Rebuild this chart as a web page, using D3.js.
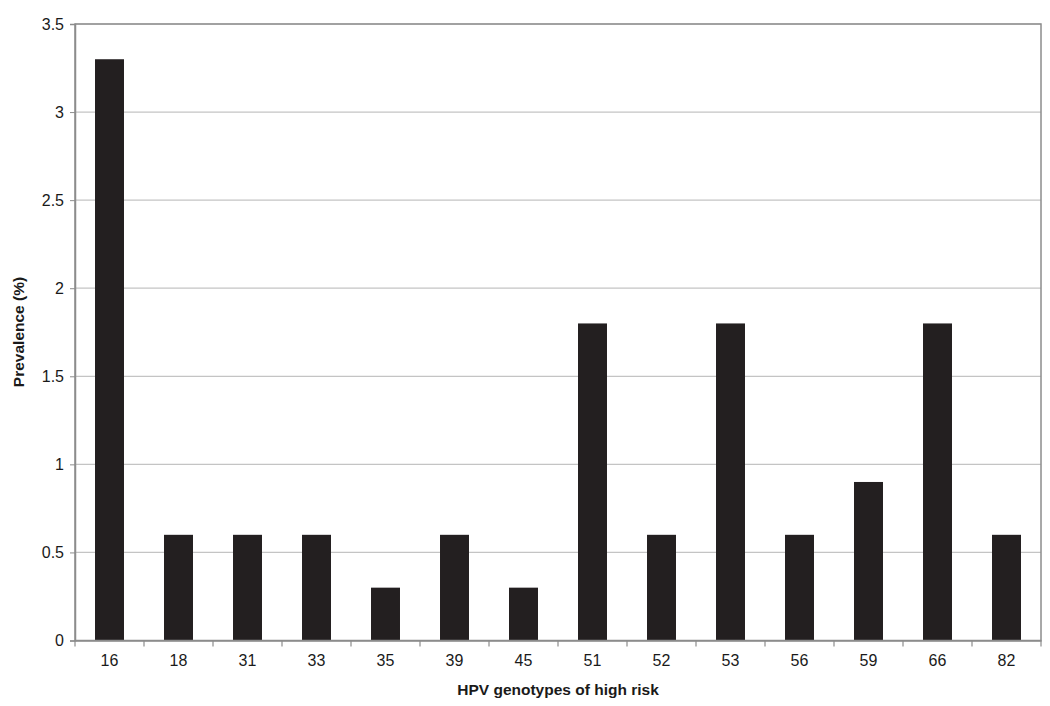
<!DOCTYPE html>
<html><head><meta charset="utf-8">
<script src="https://cdn.jsdelivr.net/npm/d3@7"></script>
<style>body{margin:0;background:#fff}svg{display:block}text{font-family:Arial,"Liberation Sans",sans-serif}</style>
</head><body><svg id="c" width="1050" height="706"></svg>
<script>
const genotypes = ["16","18","31","33","35","39","45","51","52","53","56","59","66","82"];
const prevalence = [3.3,0.6,0.6,0.6,0.3,0.6,0.3,1.8,0.6,1.8,0.6,0.9,1.8,0.6];
const yTicks = [0,0.5,1,1.5,2,2.5,3,3.5];
const yTickLabels = ["0","0.5","1","1.5","2","2.5","3","3.5"];

const svg = d3.select("#c");
const L = 75, R = 1041, T = 24, B = 640.5;
const x = d3.scaleBand().domain(genotypes).range([L, R]).paddingInner(0.58).paddingOuter(0.29);
const y = d3.scaleLinear().domain([0, 3.5]).range([B, T]);

// gridlines
svg.append("g").selectAll("line").data(yTicks.filter(d => d > 0)).join("line")
  .attr("x1", L).attr("x2", R).attr("y1", d => y(d)).attr("y2", d => y(d))
  .attr("stroke", "#c4c4c4").attr("stroke-width", 1.2);

// bars
svg.append("g").selectAll("rect").data(genotypes).join("rect")
  .attr("x", d => x(d)).attr("width", x.bandwidth())
  .attr("y", (d, i) => y(prevalence[i])).attr("height", (d, i) => B - y(prevalence[i]))
  .attr("fill", "#231f20");

// plot frame
svg.append("rect").attr("x", L).attr("y", T).attr("width", R - L).attr("height", B - T)
  .attr("fill", "none").attr("stroke", "#8c8c8c").attr("stroke-width", 1.5);

// y axis
const yAxis = d3.axisLeft(y).tickValues(yTicks).tickFormat((d, i) => yTickLabels[i]).tickSize(5).tickPadding(6);
const gy = svg.append("g").attr("transform", `translate(${L},0)`).call(yAxis);
gy.attr("font-size", null).attr("font-family", null);
gy.select(".domain").attr("stroke", "#8c8c8c").attr("stroke-width", 1.5);
gy.selectAll(".tick line").attr("stroke", "#8c8c8c");
gy.selectAll(".tick text").style("font-size", "16px").attr("fill", "#1a1a1a");

// x axis
const step = x.step();
const xAxis = d3.axisBottom(x).tickSize(0).tickPadding(14);
const gx = svg.append("g").attr("transform", `translate(0,${B})`).call(xAxis);
gx.attr("font-size", null).attr("font-family", null);
gx.select(".domain").attr("stroke", "#8c8c8c").attr("stroke-width", 1.5);
gx.selectAll(".tick text").style("font-size", "16px").attr("fill", "#1a1a1a");
// category separator ticks
svg.append("g").selectAll("line").data(d3.range(genotypes.length + 1)).join("line")
  .attr("x1", i => L + i * step).attr("x2", i => L + i * step)
  .attr("y1", B).attr("y2", B + 6).attr("stroke", "#8c8c8c").attr("stroke-width", 1.2);

// titles
svg.append("text").attr("x", (L + R) / 2).attr("y", 695).attr("text-anchor", "middle")
  .style("font-size", "15.5px").attr("font-weight", "bold").attr("fill", "#1a1a1a").text("HPV genotypes of high risk");
svg.append("text").attr("transform", `translate(24,332) rotate(-90)`).attr("text-anchor", "middle")
  .style("font-size", "15.5px").attr("font-weight", "bold").attr("fill", "#1a1a1a").text("Prevalence (%)");
</script></body></html>
